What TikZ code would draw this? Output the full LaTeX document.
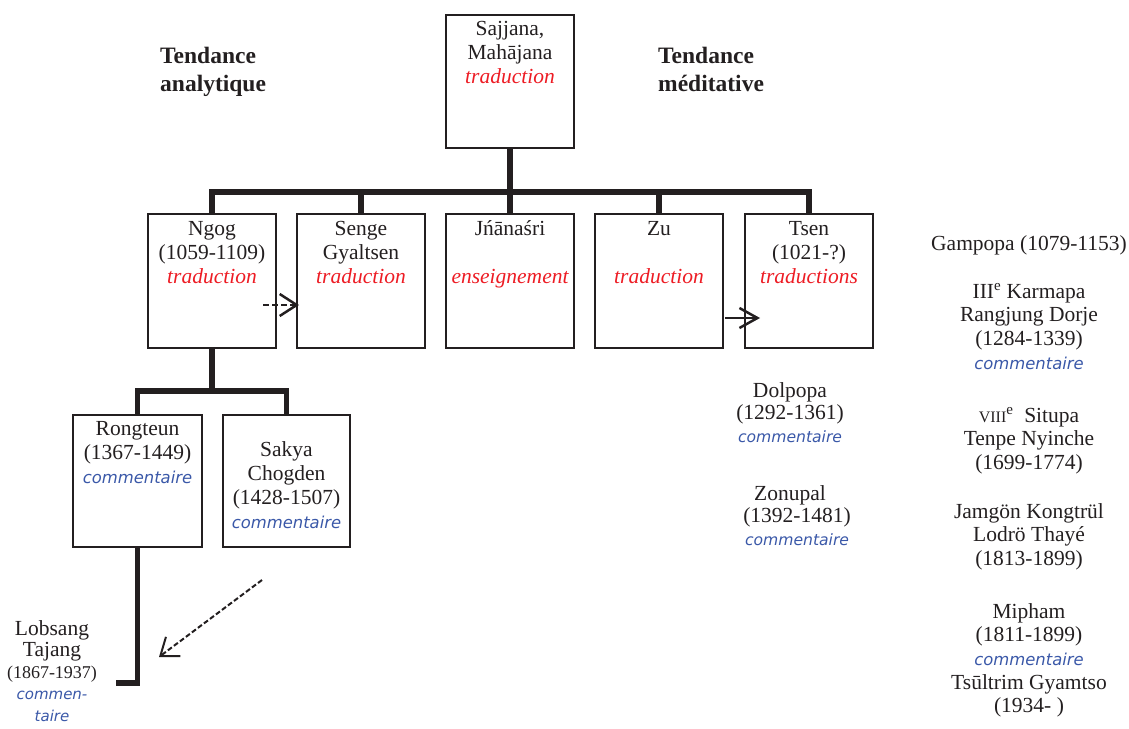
\documentclass[tikz,border=0pt]{standalone}
\usepackage{fontspec}
\setmainfont{Liberation Serif}
\newfontfamily\cmfont{DejaVu Sans}
\usetikzlibrary{arrows.meta}
\definecolor{ink}{RGB}{35,31,32}
\definecolor{tradred}{RGB}{237,28,36}
\definecolor{comblue}{RGB}{58,88,168}
\newcommand\ml[2][c]{\begin{tabular}[t]{@{}#1@{}}#2\end{tabular}}
\newcommand\trad[1]{\textcolor{tradred}{\itshape #1}}
\newcommand\comm[1][16.4]{{\cmfont\itshape\fontsize{#1}{20}\selectfont\color{comblue}commentaire}}
\begin{document}
\begin{tikzpicture}[x=1pt,y=-1pt,
  every node/.style={text=ink, inner sep=0pt, font=\fontsize{21.5}{24}\selectfont},
  box/.style={draw=ink, line width=2pt, minimum width=128pt, minimum height=134pt},
  txt/.style={anchor=base},
  tree/.style={draw=ink, line width=5.5pt},
  title/.style={anchor=base west, font=\bfseries\fontsize{23.5}{28}\selectfont},
  dense/.style={anchor=base, font=\fontsize{21.5}{23.7}\selectfont},
  mid/.style={anchor=base, font=\fontsize{21.5}{22.5}\selectfont}]
\useasboundingbox (0,0) rectangle (1129,728);

% titles
\node[title] (tA) at (160,63) {\ml[l]{Tendance\\analytique}};
\node[title] (tM) at (658,63) {\ml[l]{Tendance\\méditative}};

% boxes
\node[box, minimum height=133pt] (saj) at (510,81.5) {};
\node[txt] (sajT) at (510,35) {\ml{Sajjana,\\Mahājana\\\trad{traduction}}};
\node[box] (ngog) at (212,281) {};
\node[txt] (ngogT) at (212,235) {\ml{Ngog\\(1059-1109)\\\trad{traduction}}};
\node[box] (senge) at (361,281) {};
\node[txt] (sengeT) at (361,235) {\ml{Senge\\Gyaltsen\\\trad{traduction}}};
\node[box] (jnana) at (510,281) {};
\node[txt] (jnanaT) at (510,235) {\ml{Jńānaśri\\ \\\trad{enseignement}}};
\node[box] (zu) at (659,281) {};
\node[txt] (zuT) at (659,235) {\ml{Zu\\ \\\trad{traduction}}};
\node[box] (tsen) at (809,281) {};
\node[txt] (tsenT) at (809,235) {\ml{Tsen\\(1021-?)\\\trad{traductions}}};
\node[box, minimum width=129pt, minimum height=132pt] (rong) at (137.5,481) {};
\node[txt] (rongT) at (137.5,435) {\ml{Rongteun\\(1367-1449)\\\comm}};
\node[box, minimum width=127pt, minimum height=132pt] (sakya) at (286.5,481) {};
\node[txt] (sakyaT) at (286.5,456) {\ml{Sakya\\Chogden\\(1428-1507)\\\comm}};

% tree connectors
\coordinate (bar) at (510,192);
\coordinate (bar2) at (212,391);
\coordinate (lob) at (116,683);
\draw[tree] (saj.south) -- (jnana.north);
\draw[tree] (ngog.north) -- (ngog.north |- bar) -- (tsen.north |- bar) -- (tsen.north);
\draw[tree] (senge.north) -- (senge.north |- bar);
\draw[tree] (zu.north) -- (zu.north |- bar);
\draw[tree] (ngog.south) -- (ngog.south |- bar2);
\draw[tree] (rong.north) -- (rong.north |- bar2) -- (sakya.north |- bar2) -- (sakya.north);
\draw[tree] (rong.south) -- (rong.south |- lob) -- (lob);

% arrows
\coordinate (a1s) at (263,305);
\coordinate (a1e) at (299,305);
\draw[ink, line width=2.2pt, dash pattern=on 6pt off 3pt,
  -{Straight Barb[length=17pt,width=22pt,line width=2.5pt]}] (a1s) -- (a1e);
\coordinate (a2s) at (725,318);
\coordinate (a2e) at (760,318);
\draw[ink, line width=2.5pt, -{Straight Barb[length=18pt,width=20pt]}] (a2s) -- (a2e);
\coordinate (a3s) at (262,580);
\coordinate (a3e) at (159,657);
\draw[ink, line width=2pt, dash pattern=on 5pt off 2.5pt,
  -{Straight Barb[length=16pt,width=24pt,line width=2pt]}] (a3s) -- (a3e);

% Lobsang
\node[txt, font=\fontsize{21.5}{21.5}\selectfont] (lobT) at (52,635) {\ml{Lobsang\\Tajang\\{\fontsize{18}{18}\selectfont(1867-1937)}\\{\cmfont\itshape\fontsize{15}{18}\selectfont\color{comblue}commen-}\\{\cmfont\itshape\fontsize{15}{18}\selectfont\color{comblue}taire}}};

% middle free texts
\node[mid] (dol) at (790,397) {\ml{Dolpopa\\(1292-1361)\\\comm[15.6]}};
\node[mid] (zon) at (797,500) {\ml{Zonupal\hspace*{14pt}\\(1392-1481)\\\comm[15.6]}};

% right column
\node[txt] (gam) at (1029,250) {Gampopa (1079-1153)};
\node[dense] (karma) at (1029,298) {\ml{III\textsuperscript{e} Karmapa\\Rangjung Dorje\\(1284-1339)\\\comm}};
\node[dense] (situ) at (1029,422) {\ml{{\fontsize{16}{16}\selectfont VIII}\textsuperscript{e}\ \ Situpa\\Tenpe Nyinche\\(1699-1774)}};
\node[dense] (jam) at (1029,518) {\ml{Jamgön Kongtrül\\Lodrö Thayé\\(1813-1899)}};
\node[dense] (mip) at (1029,618) {\ml{Mipham\\(1811-1899)\\\comm\\Tsūltrim Gyamtso\\(1934- )}};
\end{tikzpicture}
\end{document}
